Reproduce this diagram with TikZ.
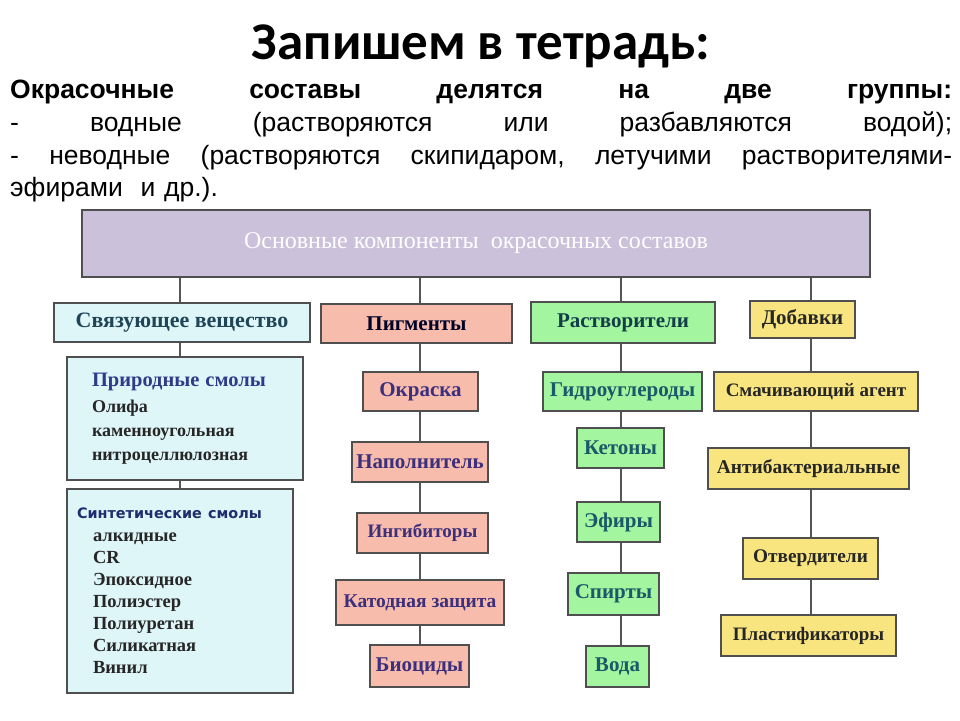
\documentclass[tikz,border=0pt]{standalone}
\usepackage{fontspec}
\setmainfont{Liberation Serif}
\newfontfamily\headfont{Carlito}
\newfontfamily\parafont{Liberation Sans}
\newfontfamily\synfont{DejaVu Sans}
\usetikzlibrary{positioning, backgrounds}
\definecolor{cborder}{HTML}{4F4F4F}
\definecolor{clink}{HTML}{555555}
\definecolor{clav}{HTML}{CBC1DB}
\definecolor{ccyan}{HTML}{DFF6F9}
\definecolor{cpink}{HTML}{F8BCAC}
\definecolor{cgreen}{HTML}{A3F5A0}
\definecolor{cyellow}{HTML}{F9E57F}
\definecolor{tteal}{HTML}{1F4557}
\definecolor{tnavy}{HTML}{2F3B8A}
\definecolor{tsyn}{HTML}{1E2D6E}
\definecolor{tpurple}{HTML}{3C2F7C}
\definecolor{tgreen}{HTML}{1B5868}
\definecolor{tdark}{HTML}{262626}
\tikzset{
  box/.style={draw=cborder, fill=#1, line width=1.8pt, align=center, inner sep=0pt,
    font=\bfseries\fontsize{21}{24}\selectfont},
  box/.default=ccyan,
  pig/.style={box=cpink, text=tpurple},
  sol/.style={box=cgreen, text=tgreen},
  add/.style={box=cyellow, text=tdark},
  resin/.style={box=ccyan, align=left, text=tdark, font=\bfseries\fontsize{18}{24}\selectfont},
  link/.style={draw=clink, line width=1.6pt},
}

\begin{document}
\begin{tikzpicture}[x=1pt, y=-1pt]
  \useasboundingbox[fill=white] (0,0) rectangle (960,720);
  % heading and intro text
  \node[anchor=base, font=\headfont\bfseries\fontsize{53}{60}\selectfont] (title) at (481,59) {Запишем в тетрадь:};
  \node[anchor=north west, inner sep=0pt, text width=942pt, align=left,
    font=\parafont\fontsize{26.5}{32.7}\selectfont] (intro) at (10,80)
    {\makebox[942pt][l]{\bfseries Окрасочные\hfill составы\hfill делятся\hfill на\hfill две\hfill группы:}\\
     \makebox[942pt][l]{-\hfill водные\hfill (растворяются\hfill или\hfill разбавляются\hfill водой);}\\
     \makebox[942pt][l]{-\hfill неводные\hfill (растворяются\hfill скипидаром,\hfill летучими\hfill растворителями-}\\
     эфирами\ \ и др.).};
  % main box
  \node[draw=cborder, fill=clav, line width=2pt, minimum width=788pt, minimum height=67pt,
    text=white, font=\fontsize{24}{28}\selectfont] (main) at (476,243.5)
    {Основные компоненты\ \ окрасочных составов};
  \coordinate (c1) at (180,0);
  \coordinate (c2) at (420,0);
  \coordinate (c3) at (621,0);
  \coordinate (c4) at (811,0);
  % binder
  \node[box=ccyan, text=tteal, minimum width=256pt, minimum height=39pt, font=\bfseries\fontsize{22}{24}\selectfont] (bind) at (182,322.5) {Связующее вещество};
  \node[resin, text width=186pt, inner xsep=25pt, minimum height=123pt] (nat) at (185,418.5)
    {{\color{tnavy}\fontsize{20.5}{24}\selectfont Природные смолы}\\[2pt]Олифа\\каменноугольная\\нитроцеллюлозная};
  \node[resin, text width=206pt, inner xsep=10pt, minimum height=204pt, font=\bfseries\fontsize{18.5}{22}\selectfont] (syn) at (180,591)
    {{\synfont\color{tsyn}\fontsize{14.4}{22}\selectfont Синтетические смолы}\\[1pt]
     \hspace*{16pt}алкидные\\\hspace*{16pt}CR\\\hspace*{16pt}Эпоксидное\\\hspace*{16pt}Полиэстер\\
     \hspace*{16pt}Полиуретан\\\hspace*{16pt}Силикатная\\\hspace*{16pt}Винил};
  % pigments
  \node[box=cpink, text=black!85!blue, minimum width=191pt, minimum height=39pt] (pigm) at (416.5,323.5) {Пигменты};
  \node[pig, minimum width=115pt, minimum height=39pt] (okr) at (420.5,391.5) {Окраска};
  \node[pig, minimum width=136pt, minimum height=40pt] (napo) at (420,462) {Наполнитель};
  \node[pig, minimum width=131pt, minimum height=40pt, font=\bfseries\fontsize{19}{22}\selectfont] (ingi) at (422.5,533) {Ингибиторы};
  \node[pig, minimum width=168pt, minimum height=45pt, font=\bfseries\fontsize{19.5}{22}\selectfont] (kato) at (420,602.5) {Катодная защита};
  \node[pig, minimum width=99pt, minimum height=42pt] (bioc) at (419.5,666) {Биоциды};
  % solvents
  \node[box=cgreen, text=tgreen!70!black, minimum width=184pt, minimum height=41pt] (solv) at (623,322.5) {Растворители};
  \node[sol, minimum width=159pt, minimum height=39pt] (hydr) at (622.5,391.5) {Гидроуглероды};
  \node[sol, minimum width=87pt, minimum height=40pt] (keto) at (620.5,448) {Кетоны};
  \node[sol, minimum width=83pt, minimum height=40pt] (efir) at (618.5,522) {Эфиры};
  \node[sol, minimum width=91pt, minimum height=42pt] (spir) at (613.5,594) {Спирты};
  \node[sol, minimum width=63pt, minimum height=41pt] (voda) at (617.5,666.5) {Вода};
  % additives
  \node[add, minimum width=105pt, minimum height=37pt] (dob) at (802.5,319.5) {Добавки};
  \node[add, minimum width=204pt, minimum height=39pt, font=\bfseries\fontsize{19}{22}\selectfont] (smach) at (816,391.5) {Смачивающий агент};
  \node[add, minimum width=201pt, minimum height=41pt, font=\bfseries\fontsize{19.5}{22}\selectfont] (anti) at (808.5,468.5) {Антибактериальные};
  \node[add, minimum width=135pt, minimum height=41pt, font=\bfseries\fontsize{19.3}{22}\selectfont] (otv) at (810.5,558.5) {Отвердители};
  \node[add, minimum width=175pt, minimum height=41pt, font=\bfseries\fontsize{19}{22}\selectfont] (plast) at (808.5,635.5) {Пластификаторы};
  % connectors
  \foreach \a/\b in {main/bind, bind/nat, nat/syn}
    \draw[link] (\a.south -| c1) -- (\b.north -| c1);
  \foreach \a/\b in {main/pigm, pigm/okr, okr/napo, napo/ingi, ingi/kato, kato/bioc}
    \draw[link] (\a.south -| c2) -- (\b.north -| c2);
  \foreach \a/\b in {main/solv, solv/hydr, hydr/keto, keto/efir, efir/spir, spir/voda}
    \draw[link] (\a.south -| c3) -- (\b.north -| c3);
  \foreach \a/\b in {main/dob, dob/smach, smach/anti, anti/otv, otv/plast}
    \draw[link] (\a.south -| c4) -- (\b.north -| c4);
\end{tikzpicture}
\end{document}
